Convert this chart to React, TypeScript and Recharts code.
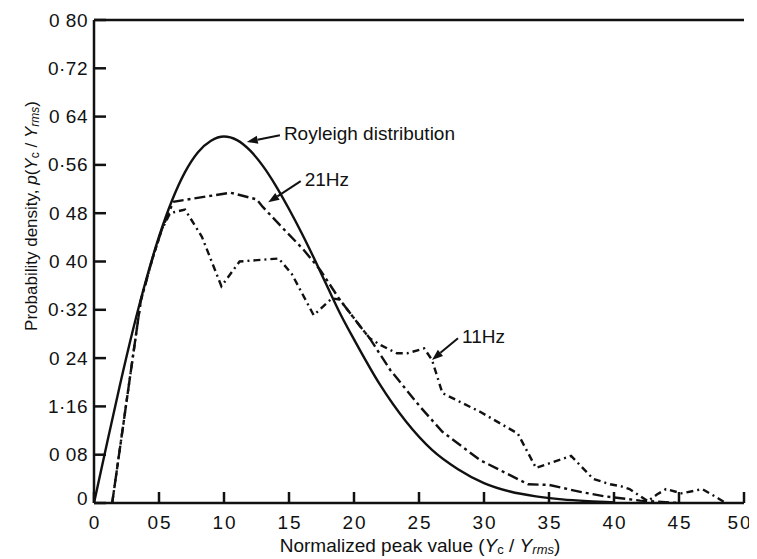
import { LineChart, Line, XAxis, YAxis, ReferenceLine, Label } from 'recharts'

// axis ticks and their printed labels (as they appear in the scan)
const xTicks = [0, 0.5, 1, 1.5, 2, 2.5, 3, 3.5, 4, 4.5, 5]
const xTickLabels = ['0', '05', '10', '15', '20', '25', '30', '35', '40', '45', '50']
const yTicks = [0, 0.08, 0.16, 0.24, 0.32, 0.4, 0.48, 0.56, 0.64, 0.72, 0.8]
const yTickLabels = ['0', '0 08', '1·16', '0 24', '0·32', '0 40', '0 48', '0·56', '0 64', '0·72', '0 80']

// Rayleigh distribution (solid)
const rayleighX = [0, 0.1, 0.2, 0.3, 0.4, 0.5, 0.6, 0.7, 0.8, 0.9, 1.0, 1.1, 1.2, 1.3, 1.4, 1.5, 1.6, 1.7, 1.8, 1.9, 2.0, 2.2, 2.4, 2.6, 2.8, 3.0, 3.2, 3.4, 3.6, 3.8, 4.0]
const rayleighY = [0, 0.099, 0.196, 0.287, 0.369, 0.441, 0.501, 0.548, 0.581, 0.6, 0.607, 0.601, 0.584, 0.558, 0.525, 0.487, 0.446, 0.402, 0.356, 0.311, 0.271, 0.196, 0.135, 0.088, 0.056, 0.033, 0.019, 0.011, 0.006, 0.003, 0.001]

// 21 Hz measured
const hz21X = [0.14, 0.36, 0.45, 0.52, 0.61, 1.05, 1.25, 1.3, 1.44, 1.61, 1.74, 1.89, 2.05, 2.12, 2.28, 2.51, 2.68, 2.97, 3.34, 3.5, 3.75, 3.93, 4.2, 4.5]
const hz21Y = [0, 0.335, 0.405, 0.452, 0.499, 0.514, 0.503, 0.49, 0.458, 0.42, 0.386, 0.337, 0.292, 0.273, 0.22, 0.159, 0.118, 0.071, 0.031, 0.03, 0.018, 0.011, 0.004, 0]

// 11 Hz measured
const hz11X = [0.14, 0.36, 0.45, 0.52, 0.585, 0.7, 0.83, 0.98, 1.12, 1.42, 1.52, 1.69, 1.83, 1.89, 2.05, 2.12, 2.21, 2.33, 2.41, 2.54, 2.6, 2.68, 2.97, 3.26, 3.4, 3.67, 3.84, 3.97, 4.05, 4.12, 4.26, 4.33, 4.4, 4.52, 4.68, 4.8, 4.86]
const hz11Y = [0, 0.335, 0.405, 0.452, 0.48, 0.486, 0.441, 0.359, 0.4, 0.405, 0.38, 0.311, 0.339, 0.337, 0.292, 0.273, 0.261, 0.248, 0.248, 0.256, 0.237, 0.182, 0.151, 0.115, 0.058, 0.078, 0.04, 0.031, 0.028, 0.023, 0.003, 0.014, 0.023, 0.016, 0.023, 0.008, 0]

// arrow annotations: tail (where text sits) -> tip
const notes = [
  { text: 'Royleigh distribution', from: [1.43, 0.609], to: [1.175, 0.598] },
  { text: '21Hz', from: [1.59, 0.533], to: [1.34, 0.498] },
  { text: '11Hz', from: [2.8, 0.273], to: [2.6, 0.237] },
]

const toPts = (xs: number[], ys: number[]) => xs.map((x, i) => ({ x, y: ys[i] }))
const rayleigh = toPts(rayleighX, rayleighY)
const hz21 = toPts(hz21X, hz21Y)
const hz11 = toPts(hz11X, hz11Y)

const FONT = "'Liberation Sans', Arial, sans-serif"
const INK = '#111'

function LeftTick(props: any) {
  const { x, y, payload } = props
  const label = yTickLabels[yTicks.indexOf(payload.value)]
  return (
    <g>
      <line x1={x} x2={x + 12} y1={y} y2={y} stroke={INK} strokeWidth={2.5} />
      <text x={x - 6} y={payload.value === 0 ? y - 5 : y} textAnchor="end" dominantBaseline="central"
        fontSize={19} fill={INK} fontFamily={FONT} letterSpacing={0.5}>{label}</text>
    </g>
  )
}

function RightTick(props: any) {
  const { x, y } = props
  return <line x1={x} x2={x - 10} y1={y} y2={y} stroke={INK} strokeWidth={2.5} />
}

function BottomTick(props: any) {
  const { x, y, payload } = props
  const i = xTicks.indexOf(payload.value)
  // last label sits against the page edge, nudge it in
  const dx = i === xTicks.length - 1 ? -4 : 1
  return (
    <g>
      <line x1={x} x2={x} y1={y} y2={y - 11} stroke={INK} strokeWidth={2.5} />
      <text x={x + dx} y={y + 19} textAnchor="middle" dominantBaseline="central"
        fontSize={19} fill={INK} fontFamily={FONT} letterSpacing={2}>{xTickLabels[i]}</text>
    </g>
  )
}

function Arrow(text: string) {
  return (props: any) => {
    const { x1, y1, x2, y2 } = props
    const ang = Math.atan2(y2 - y1, x2 - x1)
    const len = 11
    const w = 4
    const bx = x2 - len * Math.cos(ang)
    const by = y2 - len * Math.sin(ang)
    const px = -Math.sin(ang) * w
    const py = Math.cos(ang) * w
    return (
      <g>
        <line x1={x1} y1={y1} x2={bx} y2={by} stroke={INK} strokeWidth={2} />
        <polygon points={`${x2},${y2} ${bx + px},${by + py} ${bx - px},${by - py}`} fill={INK} />
        <text x={x1 + 4} y={y1 - 2} dominantBaseline="central" fontSize={19} fill={INK} fontFamily={FONT}>{text}</text>
      </g>
    )
  }
}

function XTitle(props: any) {
  const vb = props.viewBox || { x: 86, y: 495, width: 650 }
  return (
    <text x={vb.x + vb.width / 2 + 1} y={vb.y + 42} textAnchor="middle" dominantBaseline="central"
      fontSize={19} fill={INK} fontFamily={FONT}>
      Normalized peak value (<tspan fontStyle="italic">Y</tspan><tspan fontSize={13} dy={4}>c</tspan>
      <tspan dy={-4}> / </tspan><tspan fontStyle="italic">Y</tspan><tspan fontSize={13} fontStyle="italic" dy={4}>rms</tspan><tspan dy={-4}>)</tspan>
    </text>
  )
}

function YTitle() {
  const cx = 23
  const cy = 208
  return (
    <text x={cx} y={cy} transform={`rotate(-90 ${cx} ${cy})`} textAnchor="middle" dominantBaseline="central"
      fontSize={17} fill={INK} fontFamily={FONT}>
      Probability density, <tspan fontStyle="italic">p</tspan>(<tspan fontStyle="italic">Y</tspan><tspan fontSize={12} dy={4}>c</tspan>
      <tspan dy={-4}> / </tspan><tspan fontStyle="italic">Y</tspan><tspan fontSize={12} fontStyle="italic" dy={4}>rms</tspan><tspan dy={-4}>)</tspan>
    </text>
  )
}

export default function App() {
  return (
    <div style={{ width: 749, height: 551, fontFamily: FONT }}>
      <LineChart width={749} height={551} margin={{ top: 12, right: 13, bottom: 0, left: 0 }}>
        <XAxis dataKey="x" type="number" domain={[0, 5]} ticks={xTicks} interval={0} height={56}
          allowDataOverflow tickSize={0} tickMargin={0} tickLine={false} tick={<BottomTick />}
          axisLine={{ stroke: INK, strokeWidth: 2.5 }}>
          <Label content={<XTitle />} />
        </XAxis>
        <YAxis yAxisId="l" type="number" domain={[0, 0.8]} ticks={yTicks} interval={0} width={86}
          allowDataOverflow tickSize={0} tickMargin={0} tickLine={false} tick={<LeftTick />}
          axisLine={{ stroke: INK, strokeWidth: 2.5 }}>
          <Label content={<YTitle />} />
        </YAxis>
        <YAxis yAxisId="r" orientation="right" type="number" domain={[0, 0.8]} ticks={yTicks} interval={0} width={0}
          allowDataOverflow tickSize={0} tickMargin={0} tickLine={false} tick={<RightTick />}
          axisLine={{ stroke: INK, strokeWidth: 2.5 }} />
        <ReferenceLine yAxisId="l" y={0.8} stroke={INK} strokeWidth={2.5} />
        <Line yAxisId="l" data={rayleigh} dataKey="y" type="monotone" stroke={INK} strokeWidth={2.4}
          dot={false} isAnimationActive={false} />
        <Line yAxisId="l" data={hz21} dataKey="y" type="linear" stroke={INK} strokeWidth={2.4}
          strokeDasharray="11 4 3 4" dot={false} isAnimationActive={false} />
        <Line yAxisId="l" data={hz11} dataKey="y" type="linear" stroke={INK} strokeWidth={2.4}
          strokeDasharray="7 4 2 4" dot={false} isAnimationActive={false} />
        {notes.map((n) => (
          <ReferenceLine key={n.text} yAxisId="l"
            segment={[{ x: n.from[0], y: n.from[1] }, { x: n.to[0], y: n.to[1] }]}
            stroke={INK} shape={Arrow(n.text)} />
        ))}
      </LineChart>
    </div>
  )
}
